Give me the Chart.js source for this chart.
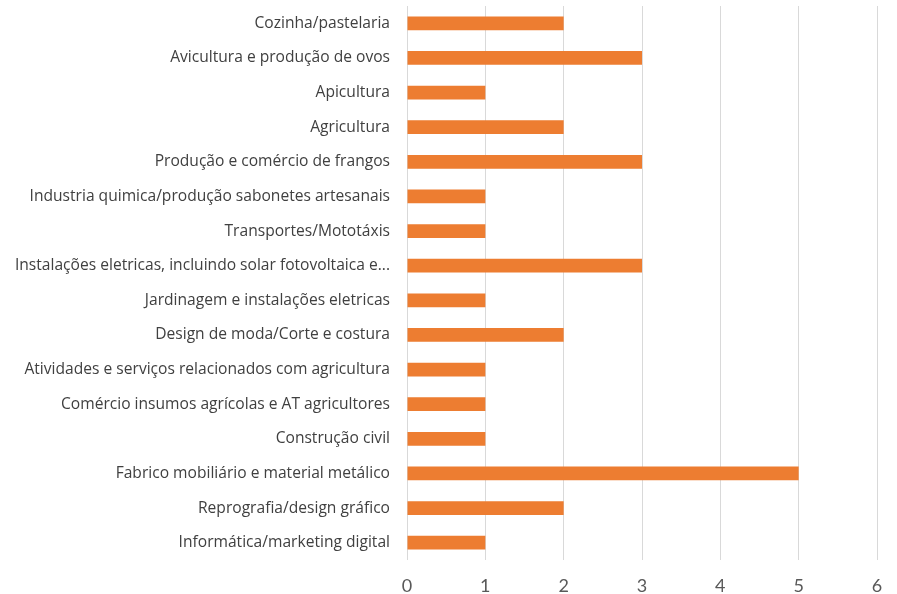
<!DOCTYPE html>
<html><head><meta charset="utf-8">
<script src="https://cdn.jsdelivr.net/npm/chart.js@4/dist/chart.umd.min.js"></script>
<style>html,body{margin:0;padding:0;background:#fff}#wrap{width:897px;height:594px}</style>
</head><body><div id="wrap"><canvas id="c" width="897" height="594"></canvas></div>
<script>
const categories = [
  "Cozinha/pastelaria",
  "Avicultura e produção de ovos",
  "Apicultura",
  "Agricultura",
  "Produção e comércio de frangos",
  "Industria quimica/produção sabonetes artesanais",
  "Transportes/Mototáxis",
  "Instalações eletricas, incluindo solar fotovoltaica e...",
  "Jardinagem e instalações eletricas",
  "Design de moda/Corte e costura",
  "Atividades e serviços relacionados com agricultura",
  "Comércio insumos agrícolas e AT agricultores",
  "Construção civil",
  "Fabrico mobiliário e material metálico",
  "Reprografia/design gráfico",
  "Informática/marketing digital"
];
const values = [2, 3, 1, 2, 3, 1, 1, 3, 1, 2, 1, 1, 1, 5, 2, 1];
const xTicks = [0, 1, 2, 3, 4, 5, 6];

new Chart(document.getElementById('c'), {
  type: 'bar',
  data: { labels: categories, datasets: [{ data: values, backgroundColor: '#ED7D31', barPercentage: 0.4, categoryPercentage: 1.0 }] },
  options: {
    indexAxis: 'y', responsive: false, animation: false,
    layout: { padding: { top: 6, right: 20, left: 0, bottom: 0 } },
    plugins: { legend: { display: false }, tooltip: { enabled: false } },
    scales: {
      x: {
        min: xTicks[0], max: xTicks[xTicks.length - 1],
        afterBuildTicks: s => { s.ticks = xTicks.map(v => ({ value: v })); },
        grid: { color: '#d9d9d9', lineWidth: 1, drawTicks: false },
        border: { display: false },
        ticks: { color: '#595959', font: { family: 'Lato', size: 18 }, padding: 15 },
        afterFit: s => { s.height = 34; s.paddingLeft = 0; s.paddingRight = 0; }
      },
      y: {
        grid: { display: false, drawTicks: false }, border: { display: false },
        ticks: { color: '#404040', font: { family: 'Open Sans', size: 15.6 }, padding: 17, autoSkip: false },
        afterFit: s => { s.width = 407; s.paddingTop = 0; s.paddingBottom = 0; }
      }
    }
  }
});
</script></body></html>
